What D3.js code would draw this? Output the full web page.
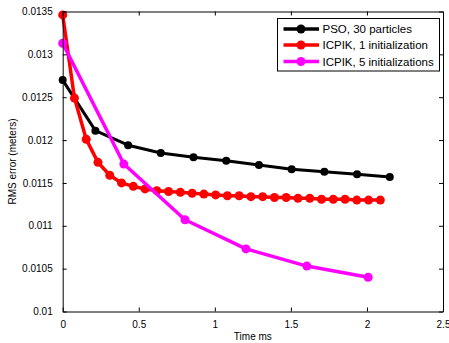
<!DOCTYPE html>
<html><head><meta charset="utf-8">
<script src="https://cdn.jsdelivr.net/npm/d3@7"></script>
<style>body{margin:0;background:#fff}svg{display:block}text{font-family:"Liberation Sans",Arial,sans-serif}</style>
</head><body>
<script>
const xTicks = [0, 0.5, 1, 1.5, 2, 2.5];
const xTickLabels = ["0", "0.5", "1", "1.5", "2", "2.5"];
const yTicks = [0.01, 0.0105, 0.011, 0.0115, 0.012, 0.0125, 0.013, 0.0135];
const yTickLabels = ["0.01", "0.0105", "0.011", "0.0115", "0.012", "0.0125", "0.013", "0.0135"];

const psoX = [0, 0.215, 0.43, 0.645, 0.86, 1.075, 1.29, 1.505, 1.72, 1.935, 2.15];
const psoY = [0.0127, 0.01211, 0.01194, 0.01185, 0.0118, 0.01176, 0.01171, 0.01166, 0.01163, 0.0116, 0.01157];

const icp1X = [0, 0.0773, 0.1547, 0.232, 0.3093, 0.3867, 0.464, 0.5413, 0.6187, 0.696, 0.7733, 0.8507, 0.928, 1.0053, 1.0827, 1.16, 1.2373, 1.3147, 1.392, 1.4693, 1.5467, 1.624, 1.7013, 1.7787, 1.856, 1.9333, 2.0107, 2.088];
const icp1Y = [0.01346, 0.01249, 0.01201, 0.01174, 0.01159, 0.0115, 0.01146, 0.01143, 0.01141, 0.0114, 0.01139, 0.01138, 0.01137, 0.01136, 0.01135, 0.01135, 0.01134, 0.01134, 0.01133, 0.01133, 0.01132, 0.01132, 0.01131, 0.01131, 0.01131, 0.0113, 0.0113, 0.0113];

const icp5X = [0, 0.402, 0.804, 1.205, 1.605, 2.008];
const icp5Y = [0.01313, 0.01172, 0.01107, 0.01073, 0.01053, 0.0104];

const seriesNames = ["PSO, 30 particles", "ICPIK, 1 initialization", "ICPIK, 5 initializations"];
const seriesColors = ["#000000", "#ff0000", "#ff00ff"];

const W = 449, H = 343;
const L = 62.7, R = 443, T = 11.5, B = 311.5;
const svg = d3.select("body").append("svg").attr("width", W).attr("height", H);

const x = d3.scaleLinear().domain([0, 2.5]).range([L, R]);
const y = d3.scaleLinear().domain([0.01, 0.0135]).range([B, T]);

// series
const series = [
  {x: psoX, y: psoY, c: seriesColors[0], w: 3, r: 4},
  {x: icp1X, y: icp1Y, c: seriesColors[1], w: 3.5, r: 4.5},
  {x: icp5X, y: icp5Y, c: seriesColors[2], w: 3.5, r: 4.5}
];
const line = d3.line().x(d => x(d[0])).y(d => y(d[1]));
series.forEach(s => {
  const pts = s.x.map((v, i) => [v, s.y[i]]);
  svg.append("path").attr("d", line(pts)).attr("fill", "none")
    .attr("stroke", s.c).attr("stroke-width", s.w).attr("stroke-linejoin", "round");
  svg.selectAll(null).data(pts).enter().append("circle")
    .attr("cx", d => x(d[0])).attr("cy", d => y(d[1])).attr("r", s.r).attr("fill", s.c);
});

// axes
const fmtX = (d, i) => xTickLabels[i];
const fmtY = (d, i) => yTickLabels[i];
const ax = svg.append("g").attr("transform", `translate(0,${B})`)
  .call(d3.axisBottom(x).tickValues(xTicks).tickFormat(fmtX).tickSizeInner(-4).tickSizeOuter(0).tickPadding(9));
const ay = svg.append("g").attr("transform", `translate(${L},0)`)
  .call(d3.axisLeft(y).tickValues(yTicks).tickFormat(fmtY).tickSizeInner(-4).tickSizeOuter(0).tickPadding(10));
const axT = svg.append("g").attr("transform", `translate(0,${T})`)
  .call(d3.axisTop(x).tickValues(xTicks).tickFormat("").tickSizeInner(-4).tickSizeOuter(0));
const ayR = svg.append("g").attr("transform", `translate(${R},0)`)
  .call(d3.axisRight(y).tickValues(yTicks).tickFormat("").tickSizeInner(-4).tickSizeOuter(0));
[ax, ay, axT, ayR].forEach(g => {
  g.selectAll("path").attr("stroke", "#000").attr("stroke-width", 1);
  g.selectAll("line").attr("stroke", "#000");
  g.selectAll("text").attr("font-size", 10).attr("fill", "#000").attr("font-family", '"Liberation Sans",Arial,sans-serif');
});

svg.append("text").attr("x", (L + R) / 2).attr("y", 340).attr("text-anchor", "middle")
  .attr("font-size", 10).text("Time ms");
svg.append("text").attr("transform", `translate(16,${(T + B) / 2}) rotate(-90)`)
  .attr("text-anchor", "middle").attr("font-size", 10).text("RMS error (meters)");

// legend
const lg = svg.append("g");
lg.append("rect").attr("x", 277.5).attr("y", 18.5).attr("width", 162).attr("height", 52.5)
  .attr("fill", "#fff").attr("stroke", "#000").attr("stroke-width", 1);
const rowsY = [29, 45, 61.5];
seriesNames.forEach((n, i) => {
  lg.append("line").attr("x1", 283.5).attr("x2", 319).attr("y1", rowsY[i]).attr("y2", rowsY[i])
    .attr("stroke", seriesColors[i]).attr("stroke-width", 3.5);
  lg.append("circle").attr("cx", 301).attr("cy", rowsY[i]).attr("r", 4.5).attr("fill", seriesColors[i]);
  lg.append("text").attr("x", 322.5).attr("y", rowsY[i] + 4).attr("font-size", 11.5).text(n);
});
</script>
</body></html>
